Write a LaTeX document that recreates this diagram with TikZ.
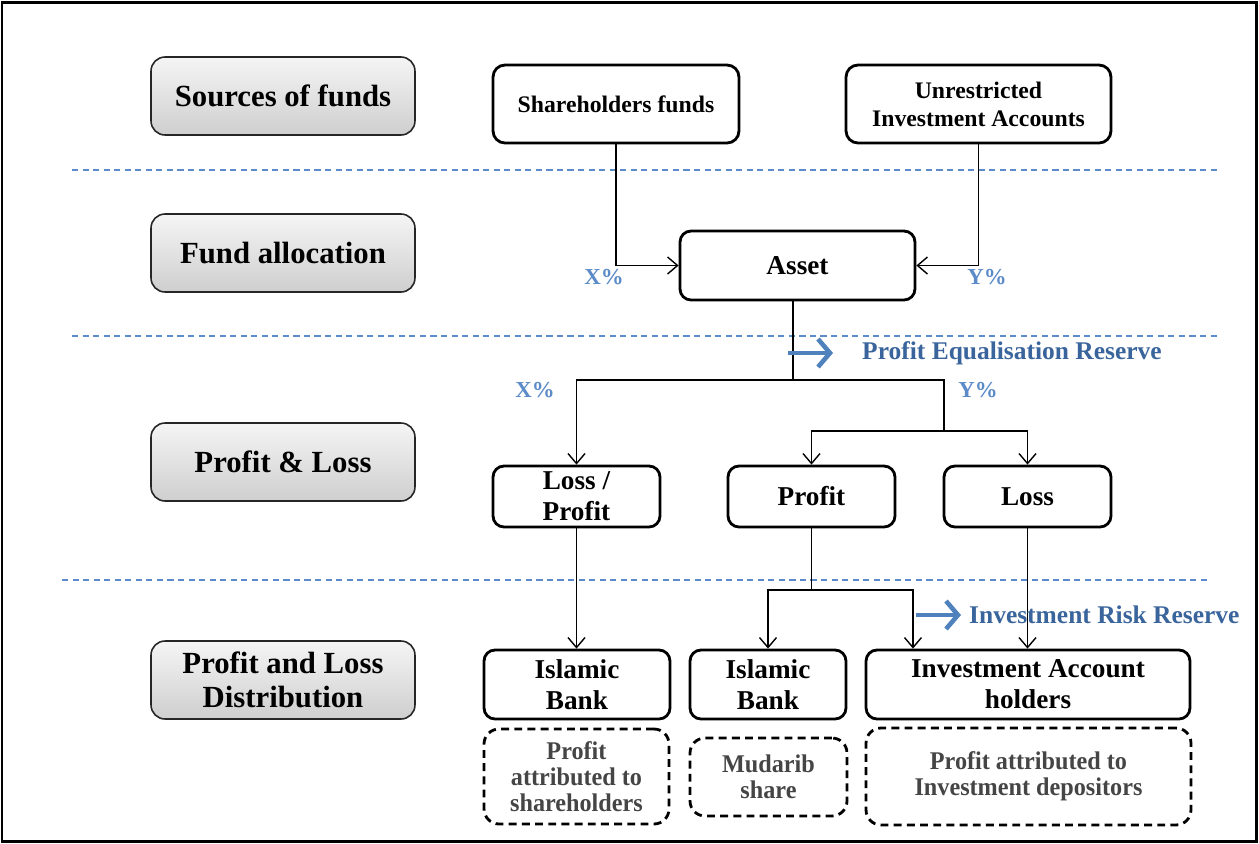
\documentclass[tikz,border=0pt]{standalone}
\usepackage{fontspec}
\setmainfont{Liberation Serif}
\newfontfamily\narrowserif[FakeStretch=0.95]{Liberation Serif}
\usetikzlibrary{positioning,calc,arrows.meta}
\definecolor{sepblue}{HTML}{5B8BCB}
\definecolor{resblue}{HTML}{4F81BD}
\definecolor{restext}{HTML}{3A659C}
\definecolor{pcblue}{HTML}{5B8BC8}
\definecolor{notegray}{HTML}{454545}

\begin{document}
\begin{tikzpicture}[x=0.02cm,y=-0.02cm,
  stage/.style={draw=black!85,line width=0.9pt,rounded corners=0.28cm,top color=gray!8,bottom color=gray!38,minimum width=5.28cm,minimum height=1.56cm,align=center,font=\fontsize{17.5}{19.5}\selectfont\bfseries},
  fund/.style={draw,line width=1.6pt,rounded corners=0.24cm,align=center,font=\fontsize{13.5}{16}\selectfont\bfseries},
  item/.style={draw,line width=1.6pt,rounded corners=0.22cm,align=center,font=\fontsize{15.5}{17.5}\selectfont\bfseries},
  share/.style={draw,dash pattern=on 4.5pt off 3pt,line width=1.6pt,rounded corners=0.3cm,align=center,text=notegray,font=\narrowserif\fontsize{14.5}{15}\selectfont\bfseries},
  link/.style={line width=0.8pt,-{Straight Barb[length=2mm,width=3.4mm]}},
  pct/.style={text=pcblue,font=\fontsize{13}{15}\selectfont\bfseries},
  reserve/.style={text=restext,font=\fontsize{14.5}{16}\selectfont\bfseries,anchor=west},
  resarrow/.style={resblue,line width=2.6pt,-{Straight Barb[length=2.4mm,width=5.6mm]}},
  sep/.style={sepblue,line width=0.7pt,dash pattern=on 3.5pt off 2.5pt}]
\useasboundingbox (0,0) rectangle (1259,843);
\draw[line width=1.7pt] (2,2) rectangle (1256,841);

% stages on the left
\node[stage] (srcstage) at (283,96) {Sources of funds};
\node[stage] (allocstage) at (283,253) {Fund allocation};
\node[stage] (plstage) at (283,462) {Profit \& Loss};
\node[stage] (diststage) at (283,680) {Profit and Loss\\Distribution};

% separators
\draw[sep] (72,170) -- (1220,170);
\draw[sep] (72,336) -- (1220,336);
\draw[sep] (62,580) -- (1210,580);

% sources and asset
\node[fund,minimum width=4.92cm,minimum height=1.56cm] (shf) at (616,104) {Shareholders funds};
\node[fund,minimum width=5.3cm,minimum height=1.56cm] (uia) at (978.5,104) {Unrestricted\\Investment Accounts};
\node[item,minimum width=4.7cm,minimum height=1.38cm] (asset) at (797.5,265.5) {Asset};
\draw[link] (shf.south) |- (asset.west);
\draw[link] (uia.south) |- (asset.east);
\node[pct] (xin) at (604,277) {X\%};
\node[pct] (yin) at (987,277) {Y\%};

% profit and loss
\node[item,minimum width=3.34cm,minimum height=1.22cm] (lossprofit) at (576.5,496.5) {Loss /\\Profit};
\node[item,minimum width=3.34cm,minimum height=1.22cm] (profit) at (811.5,496.5) {Profit};
\node[item,minimum width=3.34cm,minimum height=1.22cm] (loss) at (1027.5,496.5) {Loss};
\coordinate (assetsplit) at (793,380);
\coordinate (ysplit) at (944,431);
\draw[line width=0.8pt] (asset.south -| assetsplit) -- (assetsplit);
\draw[link] (assetsplit) -| (lossprofit.north);
\draw[line width=0.8pt] (assetsplit) -| (ysplit);
\draw[link] (ysplit) -| (profit.north);
\draw[link] (ysplit) -| (loss.north);
\node[pct] (xout) at (535,390) {X\%};
\node[pct] (yout) at (978,390) {Y\%};
\coordinate (perstart) at (788,353);
\node[reserve] (per) at (856,353) {Profit Equalisation Reserve};
\draw[resarrow] (perstart) -- ([xshift=-0.46cm]per.west);

% distribution
\node[item,minimum width=3.72cm,minimum height=1.38cm] (bank1) at (577,684.5) {Islamic\\Bank};
\node[item,minimum width=3.12cm,minimum height=1.38cm] (bank2) at (768,684.5) {Islamic\\Bank};
\node[item,minimum width=6.48cm,minimum height=1.38cm] (iah) at (1028,684.5) {Investment Account\\holders};
\coordinate (profitsplit) at (811.5,590);
\draw[link] (lossprofit.south) -- (lossprofit.south |- bank1.north);
\draw[line width=0.8pt] (profit.south) -- (profitsplit);
\draw[link] (profitsplit) -| (bank2.north);
\draw[link] (profitsplit) -| ($(iah.north west)!0.148!(iah.north east)$);
\draw[link] (loss.south) -- (loss.south |- iah.north);
\coordinate (irrstart) at (916,615);
\node[reserve] (irr) at (963,615) {Investment Risk Reserve};
\draw[resarrow] (irrstart) -- ([xshift=-0.04cm]irr.west);

% shares
\node[share,minimum width=3.7cm,minimum height=1.9cm] (shsh) at (576.5,776.5) {Profit\\attributed to\\shareholders};
\node[share,minimum width=3.14cm,minimum height=1.56cm] (mudarib) at (768.5,777) {Mudarib\\share};
\node[share,minimum width=6.5cm,minimum height=1.94cm] (depsh) at (1028.5,776.5) {Profit attributed to\\Investment depositors};
\end{tikzpicture}
\end{document}
